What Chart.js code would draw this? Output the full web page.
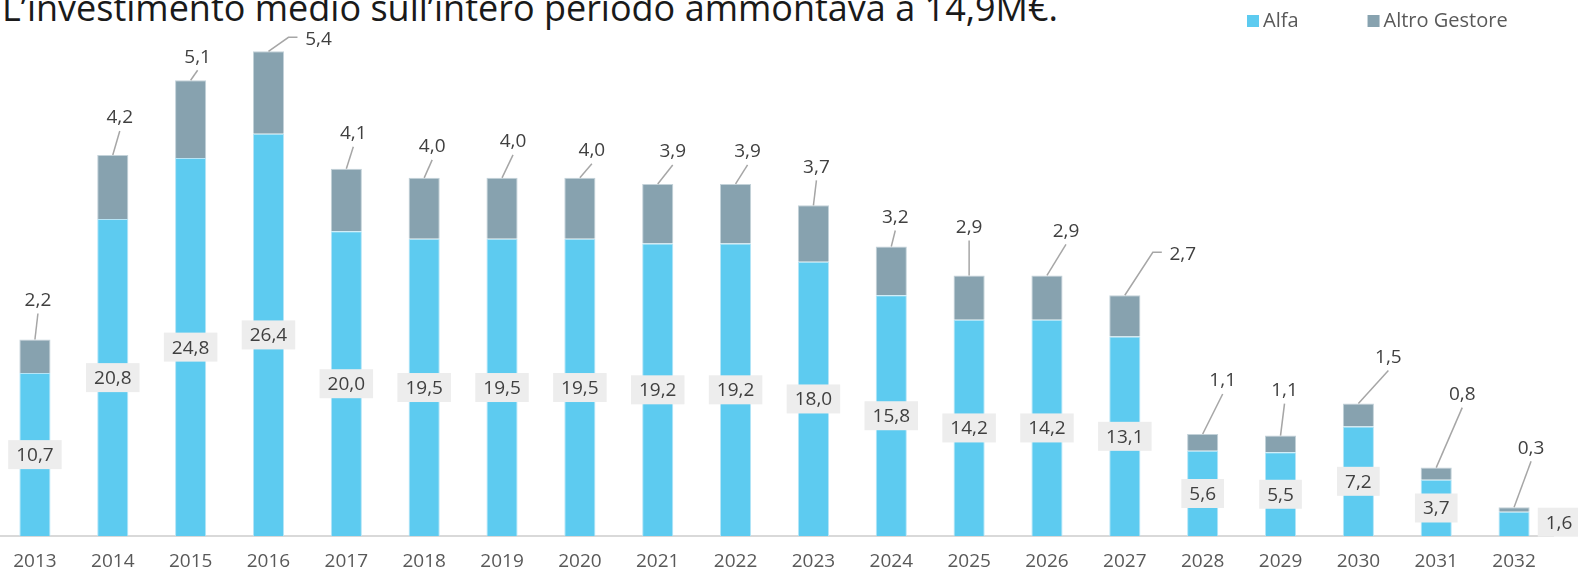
<!DOCTYPE html>
<html>
<head>
<meta charset="utf-8">
<script src="https://cdn.jsdelivr.net/npm/chart.js@4.4.0/dist/chart.umd.min.js"></script>
<style>
  html, body { margin: 0; padding: 0; background: #fff; overflow: hidden; }
  #title {
    position: absolute; left: 2px; top: -10px;
    font: 36px "Open Sans", sans-serif; line-height: 1;
    color: #1a1a1a; white-space: nowrap;
  }
  #wrap { position: absolute; left: -4px; top: 0; width: 1582px; height: 587px; }
</style>
</head>
<body>
<div id="title">L’investimento medio sull’intero periodo ammontava a 14,9M€.</div>
<div id="wrap"><canvas id="investChart"></canvas></div>
<script>
// Anni
const years = ["2013", "2014", "2015", "2016", "2017", "2018", "2019", "2020", "2021", "2022",
  "2023", "2024", "2025", "2026", "2027", "2028", "2029", "2030", "2031", "2032"];

// Valori (M€)
const alfa = [10.7, 20.8, 24.8, 26.4, 20.0, 19.5, 19.5, 19.5, 19.2, 19.2,
  18.0, 15.8, 14.2, 14.2, 13.1, 5.6, 5.5, 7.2, 3.7, 1.6];
const altroGestore = [2.2, 4.2, 5.1, 5.4, 4.1, 4.0, 4.0, 4.0, 3.9, 3.9,
  3.7, 3.2, 2.9, 2.9, 2.7, 1.1, 1.1, 1.5, 0.8, 0.3];

// posizione delle etichette "Altro Gestore" rispetto alla cima della barra [dx, dy, gomito]
const altroLabelPos = [[3, -39], [7, -37], [7, -23], [50, -12, true], [7, -35], [8, -31], [11, -36],
  [12, -27], [15, -32], [12, -32], [3, -38], [4, -29], [0, -48], [19, -44], [58, -41, true],
  [20, -53], [4, -45], [30, -46], [26, -73], [17, -59]];

const FONT = '"Open Sans", sans-serif';
const fmt = v => v.toFixed(1).replace(".", ",");

// etichette dei valori con riquadro e linee di richiamo
const valueLabels = {
  id: "valueLabels",
  afterDatasetsDraw(chart) {
    const ctx = chart.ctx;
    ctx.save();
    ctx.font = "19px " + FONT;
    ctx.textAlign = "center";
    ctx.textBaseline = "middle";

    chart.getDatasetMeta(0).data.forEach((bar, i) => {
      const txt = fmt(alfa[i]);
      const last = i === alfa.length - 1;
      const x = bar.x + (last ? 45 : 0);
      const y = last ? bar.base - 14 : (bar.y + bar.base) / 2;
      const w = ctx.measureText(txt).width + 16;
      ctx.fillStyle = "#EDEDED";
      ctx.fillRect(x - w / 2, y - 14.5, w, 29);
      ctx.fillStyle = "#404040";
      ctx.fillText(txt, x, y + 1);
    });

    chart.getDatasetMeta(1).data.forEach((bar, i) => {
      const [dx, dy, elbow] = altroLabelPos[i];
      const tx = bar.x + dx, ty = bar.y + dy;
      ctx.strokeStyle = "#A6A6A6";
      ctx.lineWidth = 1.5;
      ctx.beginPath();
      ctx.moveTo(bar.x, bar.y);
      if (elbow) {
        ctx.lineTo(tx - 30, ty - 2);
        ctx.lineTo(tx - 21, ty - 2);
      } else {
        ctx.lineTo(tx, ty + 13);
      }
      ctx.stroke();
      ctx.fillStyle = "#404040";
      ctx.fillText(fmt(altroGestore[i]), tx, ty);
    });
    ctx.restore();
  }
};

// legenda in alto a destra
const topLegend = {
  id: "topLegend",
  afterDraw(chart) {
    const ctx = chart.ctx;
    ctx.save();
    ctx.font = "20px " + FONT;
    ctx.textBaseline = "middle";
    let x = 1251;
    chart.data.datasets.forEach(ds => {
      ctx.fillStyle = ds.backgroundColor;
      ctx.fillRect(x, 15, 12, 12);
      x += 16;
      ctx.fillStyle = "#595959";
      ctx.fillText(ds.label, x, 21);
      x += ctx.measureText(ds.label).width + 69;
    });
    ctx.restore();
  }
};

new Chart(document.getElementById("investChart"), {
  type: "bar",
  data: {
    labels: years,
    datasets: [{
      label: "Alfa",
      data: alfa,
      backgroundColor: "#5DCBF0",
      borderColor: "#B5E5F7",
      borderWidth: 1,
      barPercentage: 0.4,
      categoryPercentage: 1
    }, {
      label: "Altro Gestore",
      data: altroGestore,
      backgroundColor: "#87A2AF",
      borderColor: "#C3D2D9",
      borderWidth: 1,
      barPercentage: 0.4,
      categoryPercentage: 1
    }]
  },
  options: {
    responsive: true,
    maintainAspectRatio: false,
    animation: false,
    layout: { padding: { top: 33, right: 25, bottom: 0, left: 0 } },
    plugins: {
      legend: { display: false },
      tooltip: { enabled: false }
    },
    scales: {
      x: {
        stacked: true,
        grid: { display: false, drawTicks: false },
        border: { display: true, color: "#D9D9D9", width: 2 },
        ticks: { color: "#595959", font: { family: FONT, size: 19 }, padding: 14 }
      },
      y: {
        stacked: true,
        display: false,
        min: 0,
        max: 33
      }
    }
  },
  plugins: [valueLabels, topLegend]
});
</script>
</body>
</html>
